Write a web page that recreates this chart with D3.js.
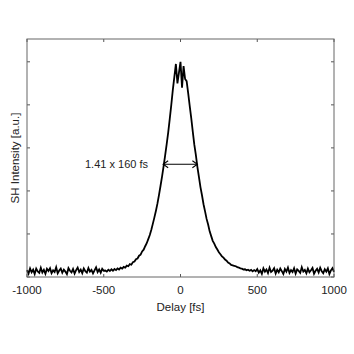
<!DOCTYPE html>
<html><head><meta charset="utf-8">
<script src="https://cdn.jsdelivr.net/npm/d3@7"></script>
<style>body{margin:0;background:#fff}svg{display:block}text{font-family:"Liberation Sans",Arial,sans-serif;fill:#222}</style>
</head><body><div id="chart"></div>
<script>
// Delay grid: -1000 .. 1000 fs, step 10 fs
const delayStart = -1000, delayStep = 10;
const baselineLeft = [
0.032,0.016,0.040,0.022,0.034,0.014,0.039,0.026,0.019,0.043,
0.021,0.033,0.015,0.038,0.028,0.041,0.018,0.031,0.023,0.045,
0.017,0.030,0.039,0.020,0.034,0.025,0.013,0.041,0.029,0.021,
0.037,0.016,0.032,0.044,0.023,0.034,0.018,0.040,0.027,0.020,
0.042,0.025,0.033,0.017,0.031,0.045,0.023,0.035,0.020,0.038,
0.029];
const riseLeft = [
0.030,0.025,0.034,0.028,0.036,0.029,0.037,0.032,0.040,0.035,
0.043,0.039,0.047,0.044,0.053,0.050,0.060,0.057,0.069,0.072,
0.083,0.086,0.099,0.104,0.119,0.127,0.143,0.157,0.176,0.195,
0.220,0.248,0.277,0.308,0.342,0.382,0.424,0.468,0.515,0.565,
0.618,0.672,0.735,0.800,0.870,0.930,0.990,0.900,0.950];
const peak = [1.000];
const fallRight = [
0.880,0.980,0.920,0.910,0.855,0.795,0.738,0.676,0.615,0.568,
0.512,0.465,0.418,0.380,0.338,0.305,0.270,0.244,0.212,0.190,
0.168,0.155,0.139,0.128,0.115,0.106,0.096,0.090,0.081,0.076,
0.067,0.063,0.056,0.054,0.052,0.050,0.046,0.044,0.040,0.039,
0.035,0.036,0.031,0.034,0.029,0.033,0.026,0.032,0.027];
const baselineRight = [
0.037,0.020,0.031,0.015,0.040,0.025,0.035,0.018,0.043,0.023,
0.029,0.041,0.016,0.034,0.022,0.039,0.027,0.014,0.037,0.025,
0.044,0.019,0.032,0.023,0.041,0.016,0.035,0.028,0.019,0.045,
0.025,0.033,0.017,0.039,0.022,0.031,0.042,0.015,0.029,0.038,
0.021,0.043,0.027,0.018,0.036,0.025,0.040,0.014,0.031,0.041,
0.024];
const intensity = [...baselineLeft, ...riseLeft, ...peak, ...fallRight, ...baselineRight];
const xTicks = [-1000, -500, 0, 500, 1000];
const xTickLabels = ["-1000", "-500", "0", "500", "1000"];
const yTicks = [0, 0.2, 0.4, 0.6, 0.8, 1.0];
const fwhm = {left: -113, right: 110, level: 0.524, label: "1.41 x 160 fs"};
const xLabel = "Delay [fs]", yLabel = "SH Intensity [a.u.]";

const W = 354, H = 354;
const x = d3.scaleLinear().domain([-1000, 1000]).range([27, 334]);
const y = d3.scaleLinear().domain([0, 1.106]).range([277, 39]);
const svg = d3.select("#chart").append("svg").attr("width", W).attr("height", H);

const data = intensity.map((v, i) => ({t: delayStart + i * delayStep, v}));

// ticks inward on all sides
const tl = 3;
const g = svg.append("g").attr("stroke", "#555").attr("stroke-width", 1);
xTicks.forEach(t => {
  g.append("line").attr("x1", x(t)).attr("x2", x(t)).attr("y1", y.range()[0]).attr("y2", y.range()[0] - tl);
  g.append("line").attr("x1", x(t)).attr("x2", x(t)).attr("y1", y.range()[1]).attr("y2", y.range()[1] + tl);
});
yTicks.forEach(t => {
  g.append("line").attr("x1", x.range()[0]).attr("x2", x.range()[0] + tl).attr("y1", y(t)).attr("y2", y(t));
  g.append("line").attr("x1", x.range()[1]).attr("x2", x.range()[1] - tl).attr("y1", y(t)).attr("y2", y(t));
});

// trace
svg.append("path").datum(data)
  .attr("d", d3.line().x(d => x(d.t)).y(d => y(d.v)))
  .attr("fill", "none").attr("stroke", "#000").attr("stroke-width", 1.8).attr("stroke-linejoin", "miter");

// frame
svg.append("rect").attr("x", x.range()[0]).attr("y", y.range()[1])
  .attr("width", x.range()[1] - x.range()[0]).attr("height", y.range()[0] - y.range()[1])
  .attr("fill", "none").attr("stroke", "#666").attr("stroke-width", 1);

// tick labels
svg.append("g").selectAll("text").data(xTicks).join("text")
  .attr("x", d => x(d)).attr("y", 294).attr("text-anchor", "middle")
  .attr("font-size", 11.5).text((d, i) => xTickLabels[i]);
svg.append("text").attr("x", x(0)).attr("y", 311).attr("text-anchor", "middle")
  .attr("font-size", 11.5).text(xLabel);
svg.append("text").attr("transform", `translate(19,${(y.range()[0] + y.range()[1]) / 2}) rotate(-90)`)
  .attr("text-anchor", "middle").attr("font-size", 11.5).text(yLabel);

// FWHM arrow
const ay = y(fwhm.level), ax1 = x(fwhm.left), ax2 = x(fwhm.right);
const ag = svg.append("g").attr("stroke", "#000").attr("stroke-width", 1.1).attr("fill", "none");
ag.append("line").attr("x1", ax1).attr("x2", ax2).attr("y1", ay).attr("y2", ay);
ag.append("path").attr("d", `M${ax1 + 5},${ay - 3.5}L${ax1},${ay}L${ax1 + 5},${ay + 3.5}`);
ag.append("path").attr("d", `M${ax2 - 5},${ay - 3.5}L${ax2},${ay}L${ax2 - 5},${ay + 3.5}`);
svg.append("text").attr("x", 85).attr("y", ay + 4).attr("font-size", 11).text(fwhm.label);
</script></body></html>
